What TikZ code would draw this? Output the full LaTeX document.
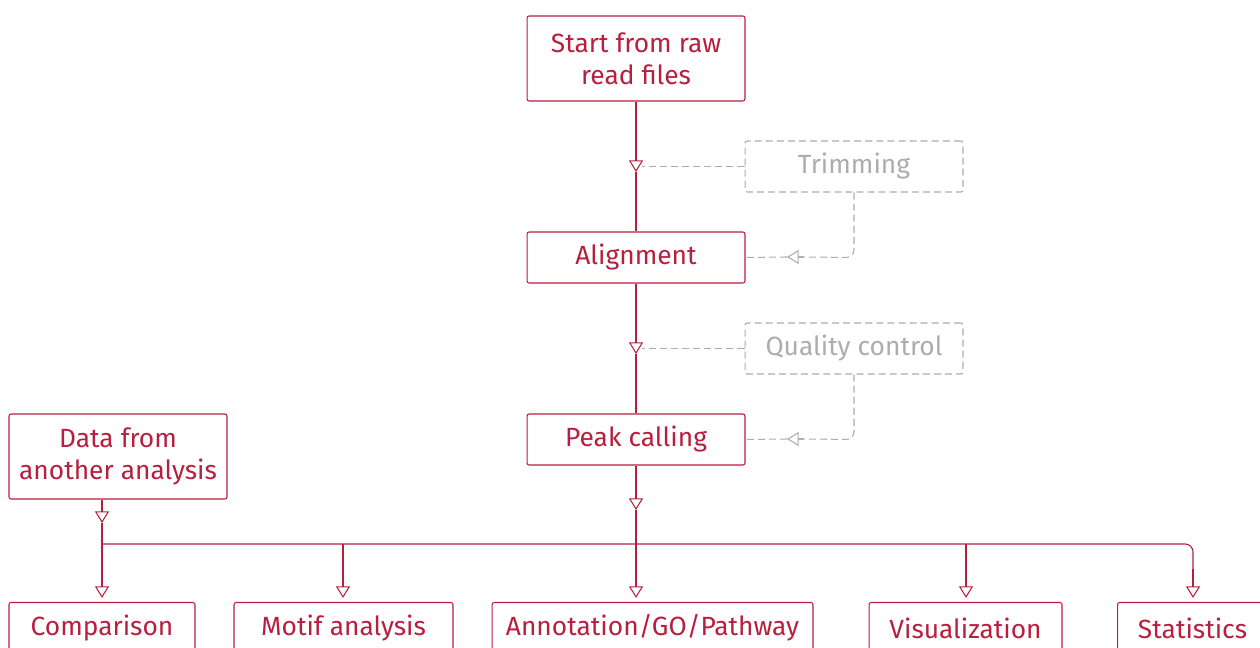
\documentclass[tikz,border=0pt]{standalone}
\usepackage{fontspec}
\setmainfont{Fira Sans}
\usetikzlibrary{arrows.meta}
\definecolor{flowred}{RGB}{184,30,62}
\definecolor{optgray}{RGB}{172,172,172}
\tikzset{
  stepbox/.style={draw=flowred, text=flowred, line width=0.6pt, rounded corners=1.2pt,
    minimum width=4.36cm, minimum height=1.02cm, align=center, inner sep=0pt,
    font=\fontsize{15}{18.2}\selectfont},
  optbox/.style={stepbox, draw=optgray, text=optgray, dash pattern=on 4pt off 2.3pt},
  flow/.style={draw=flowred, line width=0.6pt},
  optflow/.style={draw=optgray, line width=0.6pt, dash pattern=on 4pt off 2.3pt},
  tip/.style={-{Triangle[open, length=6.6pt, width=8pt]}},
}
\begin{document}
\begin{tikzpicture}[x=0.02cm, y=-0.02cm]
\useasboundingbox (0,0) rectangle (1260,648);
\clip (0,0) rectangle (1260,648);

% main pipeline
\node[stepbox, minimum height=1.7cm] (start) at (636,58.5) {Start from raw\\read files};
\node[stepbox] (align) at (636,257.5) {Alignment};
\node[stepbox] (peak) at (636,439.5) {Peak calling};
\node[stepbox, minimum height=1.7cm] (other) at (118,456.5) {Data from\\another analysis};

% optional steps
\node[optbox] (trim) at (854,166.5) {Trimming};
\node[optbox] (qc) at (854,348.5) {Quality control};

% downstream analyses
\node[stepbox, minimum width=3.72cm] (cmp) at (102,628) {Comparison};
\node[stepbox, minimum width=4.38cm] (motif) at (343.5,628) {Motif analysis};
\node[stepbox, minimum width=6.42cm] (annot) at (652.5,628) {Annotation/GO/Pathway};
\node[stepbox, minimum width=3.86cm] (vis) at (965.5,628) {Visualization};
\node[stepbox, minimum width=3.00cm, anchor=west] (stats) at (1117,628) {Statistics};

% junction points
\coordinate (t1) at (636,172);
\coordinate (t2) at (636,354);
\coordinate (t3) at (636,510);
\coordinate (t4) at (102,523);
\coordinate (busL) at (102,544);
\coordinate (busR) at (1193,544);
\coordinate (j1) at (343,544);
\coordinate (j2) at (636,544);
\coordinate (j3) at (966,544);
\coordinate (m1) at (787,257);
\coordinate (m1b) at (803,257);
\coordinate (m2) at (787,439);
\coordinate (m2b) at (803,439);

% main connectors
\draw[flow, tip] (start.south) -- (t1);
\draw[flow] (t1) -- (align.north);
\draw[flow, tip] (align.south) -- (t2);
\draw[flow] (t2) -- (peak.north);
\draw[flow, tip] (peak.south) -- (t3);
\draw[flow, tip] (other.south -| busL) -- (t4);
\draw[flow] (t4) -- (busL);
\draw[flow] (t3) -- (j2);
\draw[flow, rounded corners=4.5pt] (busL) -- (busR) -- ([yshift=-15pt]busR);

% bus drops
\draw[flow, tip] (busL) -- ([yshift=2.3pt]cmp.north);
\draw[flow, tip] (j1) -- ([yshift=2.3pt]motif.north -| j1);
\draw[flow, tip] (j2) -- ([yshift=2.3pt]annot.north -| j2);
\draw[flow, tip] (j3) -- ([yshift=2.3pt]vis.north -| j3);
\draw[flow, tip] ([yshift=-14pt]busR) -- ([yshift=2.3pt]stats.north -| busR);

% optional connectors
\draw[optflow] (trim.west) -- ([xshift=3.6pt]t1 |- trim.west);
\draw[optflow, rounded corners=4.5pt] (trim.south) -- (trim.south |- align.east) -- (m1b);
\draw[optflow, tip] (m1b) -- (m1);
\draw[optflow] (m1) -- (align.east);
\draw[optflow] (qc.west) -- ([xshift=3.6pt]t2 |- qc.west);
\draw[optflow, rounded corners=4.5pt] (qc.south) -- (qc.south |- peak.east) -- (m2b);
\draw[optflow, tip] (m2b) -- (m2);
\draw[optflow] (m2) -- (peak.east);
\end{tikzpicture}
\end{document}
